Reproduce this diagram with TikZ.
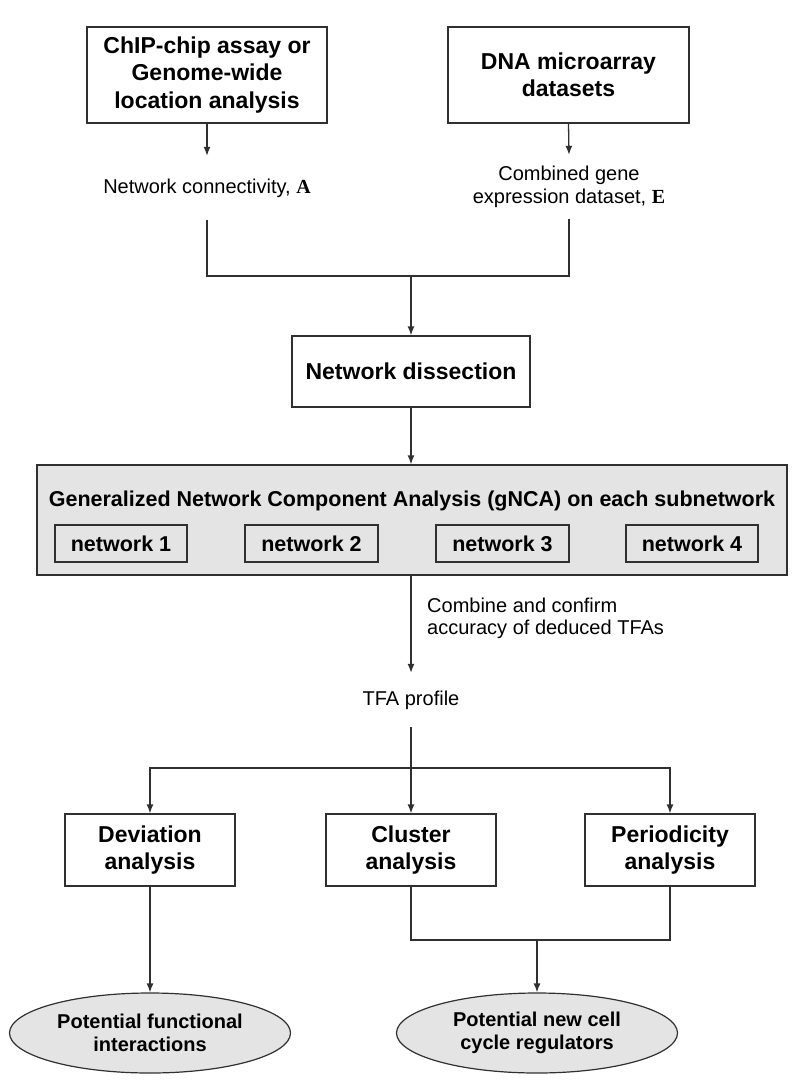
\documentclass[tikz,border=0pt]{standalone}
\usepackage{fontspec}
\setmainfont{Liberation Sans}
\newfontfamily\serifbold{Liberation Serif}
\usetikzlibrary{arrows.meta,shapes.geometric}
\definecolor{gfill}{HTML}{E4E4E4}
\definecolor{lcol}{HTML}{303030}
\tikzset{
  x=1pt,y=-1pt,
  box/.style={draw=lcol,line width=1.3pt,fill=white,align=center,inner sep=0pt,
    font=\bfseries\fontsize{23}{27.5}\selectfont},
  netbox/.style={draw=lcol,line width=1.2pt,fill=gfill,align=center,inner sep=0pt,
    minimum height=37pt,font=\bfseries\fontsize{21.5}{25}\selectfont},
  lbl/.style={align=center,inner sep=0pt,font=\fontsize{20}{22.5}\selectfont},
  oval/.style={ellipse,draw=lcol,line width=1.2pt,fill=gfill,align=center,inner sep=0pt,
    minimum width=281pt,minimum height=80pt,font=\bfseries\fontsize{20}{23}\selectfont},
  conn/.style={draw=lcol,line width=1.3pt},
  arr/.style={conn,-{Latex[length=9pt,width=7pt]}}
}
\begin{document}
\begin{tikzpicture}
\useasboundingbox (0,0) rectangle (798,1083);
% top boxes
\node[box,minimum width=240pt,minimum height=96pt] (chip) at (207,75)
  {ChIP-chip assay or\\Genome-wide\\location analysis};
\node[box,minimum width=241pt,minimum height=96pt] (dna) at (568.5,75)
  {DNA microarray\\datasets};
\node[lbl,minimum height=64pt] (con) at (207,188)
  {Network connectivity, {\serifbold\bfseries A}};
\node[lbl,minimum height=64pt] (comb) at (569,187)
  {Combined gene\\expression dataset, {\serifbold\bfseries E}};
\draw[arr] (chip.south) -- (con.north);
\draw[arr] (dna.south) -- (comb.north);
\coordinate (jM) at (411,276);
\node[box,minimum width=238pt,minimum height=71pt] (diss) at (411,371.5) {Network dissection};
\draw[conn] (con.south) |- (jM);
\draw[conn] (comb.south) |- (jM);
\draw[arr] (jM) -- (diss.north);
% gNCA
\node[draw=lcol,line width=1.3pt,fill=gfill,minimum width=750pt,minimum height=110pt,inner sep=0pt]
  (gnca) at (412,520) {};
\node[inner sep=0pt,font=\bfseries\fontsize{21.5}{25}\selectfont] (gtitle) at (412,501)
  {Generalized Network Component Analysis (gNCA) on each subnetwork};
\node[netbox,minimum width=132pt] (n1) at (121,543.5) {network 1};
\node[netbox,minimum width=133pt] (n2) at (311.5,543.5) {network 2};
\node[netbox,minimum width=133pt] (n3) at (502.5,543.5) {network 3};
\node[netbox,minimum width=132pt] (n4) at (692,543.5) {network 4};
\draw[arr] (diss.south) -- (gnca.north -| diss.south);
% TFA
\node[lbl,minimum height=54pt] (tfa) at (411,700) {TFA profile};
\draw[arr] (gnca.south -| tfa.north) -- (tfa.north);
\node[lbl,align=left,anchor=west] (cc) at (427,618.5)
  {Combine and confirm\\accuracy of deduced TFAs};
% analyses
\coordinate (hM) at (411,768);
\node[box,minimum width=170pt,minimum height=72pt] (dev) at (150,850) {Deviation\\analysis};
\node[box,minimum width=170pt,minimum height=72pt] (clu) at (411,850) {Cluster\\analysis};
\node[box,minimum width=170pt,minimum height=72pt] (per) at (670,850) {Periodicity\\analysis};
\draw[conn] (tfa.south) -- (hM);
\draw[arr] (hM) -| (dev.north);
\draw[arr] (hM) -- (clu.north);
\draw[arr] (hM) -| (per.north);
% outcomes
\node[oval] (e1) at (150,1033) {Potential functional\\interactions};
\node[oval] (e2) at (537,1033) {Potential new cell\\cycle regulators};
\coordinate (jE) at (537,940);
\draw[arr] (dev.south) -- (e1.north);
\draw[conn] (clu.south) |- (jE);
\draw[conn] (per.south) |- (jE);
\draw[arr] (jE) -- (e2.north);
\end{tikzpicture}
\end{document}
